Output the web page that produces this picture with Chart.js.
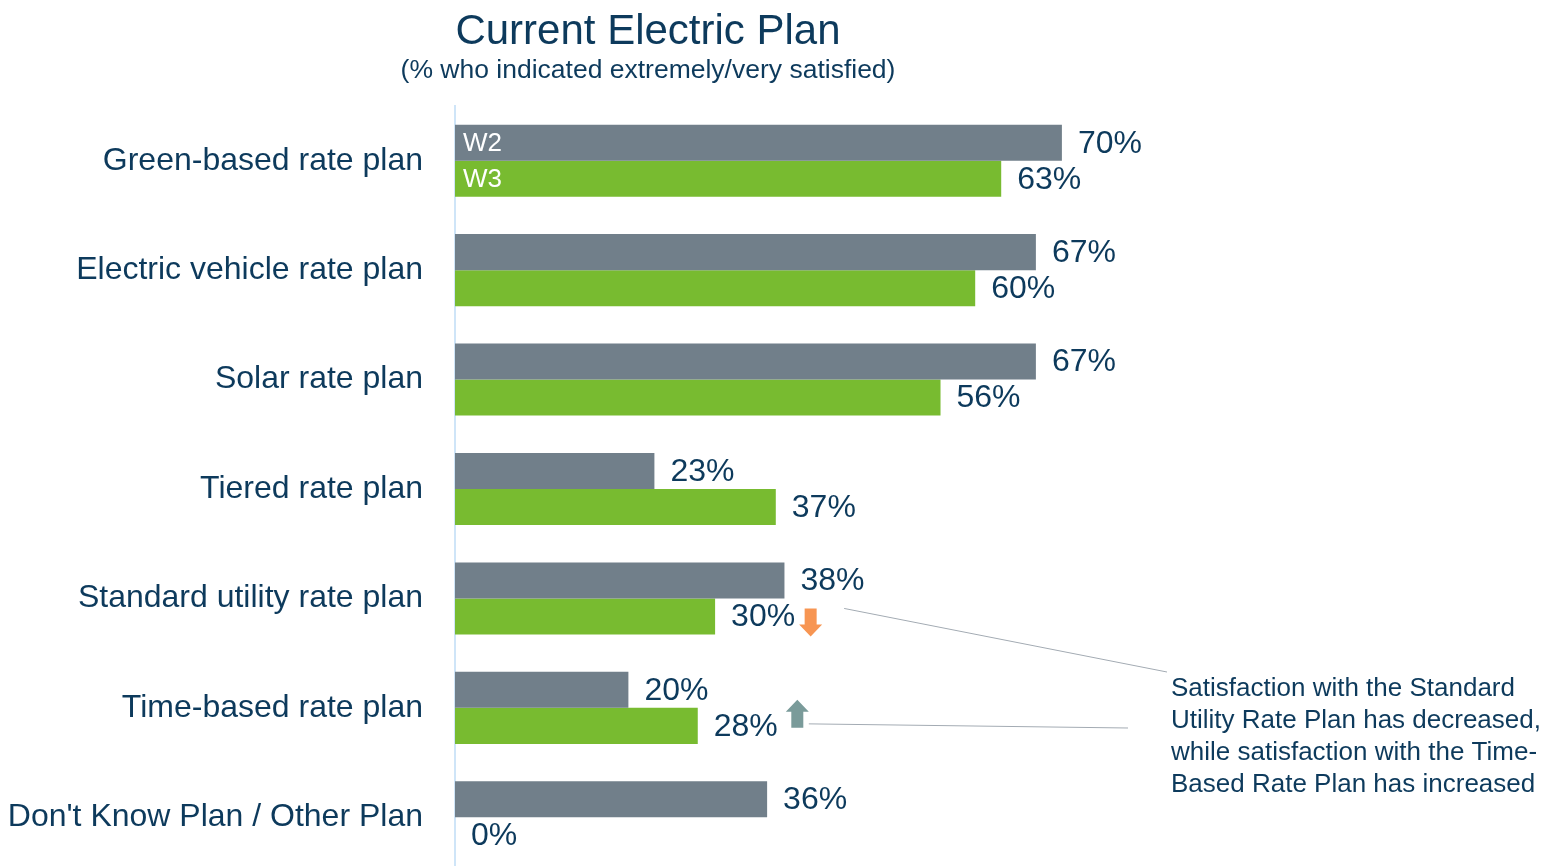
<!DOCTYPE html>
<html>
<head>
<meta charset="utf-8">
<script src="https://cdn.jsdelivr.net/npm/chart.js@4.4.0/dist/chart.umd.min.js"></script>
<style>
  html, body { margin: 0; padding: 0; background: #fff; overflow: hidden; }
  #wrap { position: relative; width: 1562px; height: 872px; }
</style>
</head>
<body>
<div id="wrap"><canvas id="planChart"></canvas></div>
<script>
// ── Data ──
const CATEGORIES = [
    "Green-based rate plan",
    "Electric vehicle rate plan",
    "Solar rate plan",
    "Tiered rate plan",
    "Standard utility rate plan",
    "Time-based rate plan",
    "Don't Know Plan / Other Plan",
];
const SERIES_NAMES = ["W2", "W3"];
const W2_VALUES = [70, 67, 67, 23, 38, 20, 36];
const W3_VALUES = [63, 60, 56, 37, 30, 28, 0];

const TITLE = "Current Electric Plan";
const SUBTITLE = "(% who indicated extremely/very satisfied)";
const NOTE_LINES = [
    "Satisfaction with the Standard",
    "Utility Rate Plan has decreased,",
    "while satisfaction with the Time-",
    "Based Rate Plan has increased",
];

// change markers next to W3 labels (series index, category index)
const CHANGE_MARKERS = [
    { series: 1, index: 4, dir: "down", color: "#f79552", gap: 4, dy: -8 },
    { series: 1, index: 5, dir: "up",   color: "#7a9b9a", gap: 8, dy: -26 },
];

// ── Styling ──
const FONT = '"Liberation Sans", Arial, sans-serif';
const TEXT = "#0d3a5c";
const COLORS = { W2: "#717f8a", W3: "#78bb30" };

function drawArrow(ctx, left, top, dir, color) {
    const w = 23, h = 28, shaft = 12, head = 12;
    const sx = left + (w - shaft) / 2;
    ctx.fillStyle = color;
    ctx.beginPath();
    if (dir === "down") {
        ctx.rect(sx, top, shaft, h - head);
        ctx.moveTo(left, top + h - head);
        ctx.lineTo(left + w, top + h - head);
        ctx.lineTo(left + w / 2, top + h);
    } else {
        ctx.rect(sx, top + head, shaft, h - head);
        ctx.moveTo(left, top + head);
        ctx.lineTo(left + w, top + head);
        ctx.lineTo(left + w / 2, top);
    }
    ctx.closePath();
    ctx.fill();
    return { left, top, right: left + w, bottom: top + h };
}

// value labels, series names, markers, callout note and titles
const overlay = {
    id: "overlay",
    afterDatasetsDraw(chart) {
        const ctx = chart.ctx;
        ctx.save();
        ctx.textBaseline = "middle";
        ctx.textAlign = "left";

        // values at bar ends
        ctx.font = `32px ${FONT}`;
        ctx.fillStyle = TEXT;
        const labelEnds = [];
        chart.data.datasets.forEach((ds, di) => {
            labelEnds[di] = [];
            chart.getDatasetMeta(di).data.forEach((bar, i) => {
                const txt = ds.data[i] + "%";
                const x = bar.x + 16;
                ctx.fillText(txt, x, bar.y + 1);
                labelEnds[di][i] = { x: x + ctx.measureText(txt).width, y: bar.y };
            });
        });

        // series names inside the first pair of bars
        ctx.font = `26px ${FONT}`;
        ctx.fillStyle = "#ffffff";
        chart.data.datasets.forEach((ds, di) => {
            const bar = chart.getDatasetMeta(di).data[0];
            ctx.fillText(ds.label, bar.base + 8, bar.y + 1);
        });

        // arrows
        const boxes = CHANGE_MARKERS.map(m => {
            const end = labelEnds[m.series][m.index];
            return drawArrow(ctx, end.x + m.gap, end.y + m.dy, m.dir, m.color);
        });

        // note text
        const noteX = 1171, noteY = 689, lineH = 32;
        ctx.font = `26px ${FONT}`;
        ctx.fillStyle = TEXT;
        NOTE_LINES.forEach((t, k) => ctx.fillText(t, noteX, noteY + k * lineH));

        // callout lines
        ctx.strokeStyle = "#a3abb3";
        ctx.lineWidth = 1;
        ctx.beginPath();
        ctx.moveTo(boxes[0].right + 22, boxes[0].top);
        ctx.lineTo(noteX - 4, noteY - 17);
        ctx.moveTo(boxes[1].right, boxes[1].bottom - 4);
        ctx.lineTo(noteX - 43, noteY + 39);
        ctx.stroke();

        // titles
        ctx.textAlign = "center";
        ctx.textBaseline = "alphabetic";
        ctx.font = `42px ${FONT}`;
        ctx.fillText(TITLE, 648, 44);
        ctx.font = `26.5px ${FONT}`;
        ctx.fillText(SUBTITLE, 648, 78);
        ctx.restore();
    },
};

new Chart(document.getElementById("planChart"), {
    type: "bar",
    data: {
        labels: CATEGORIES,
        datasets: [
            { label: SERIES_NAMES[0], data: W2_VALUES, backgroundColor: COLORS.W2 },
            { label: SERIES_NAMES[1], data: W3_VALUES, backgroundColor: COLORS.W3 },
        ],
    },
    options: {
        indexAxis: "y",
        responsive: true,
        maintainAspectRatio: false,
        animation: false,
        layout: { padding: { top: 106, right: 240, bottom: 0, left: 0 } },
        datasets: { bar: { categoryPercentage: 0.6585, barPercentage: 1.0, borderWidth: 0 } },
        plugins: {
            legend: { display: false },
            tooltip: { enabled: false },
        },
        scales: {
            x: { display: false, min: 0, max: 100 },
            y: {
                afterFit(scale) {
                    // fixed axis width, and no extra label padding above/below the bars
                    scale.width = 455;
                    scale.paddingTop = 0;
                    scale.paddingBottom = 0;
                },
                grid: { display: false, drawTicks: false },
                border: { display: true, color: "#cfe5f8", width: 2 },
                ticks: {
                    padding: 32,
                    color: TEXT,
                    font: { family: FONT, size: 32 },
                },
            },
        },
    },
    plugins: [overlay],
});
</script>
</body>
</html>
